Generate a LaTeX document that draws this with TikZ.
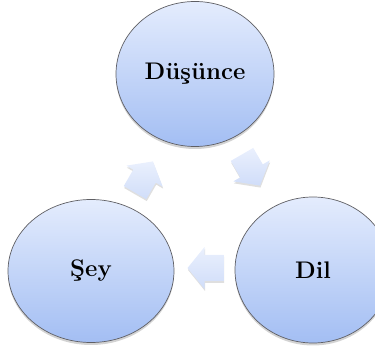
\documentclass[tikz,border=0pt]{standalone}
\usepackage{fontspec}
\usetikzlibrary{shadows,shapes.geometric}
\definecolor{ctop}{RGB}{228,236,253}
\definecolor{cbot}{RGB}{163,190,243}
\definecolor{cedge}{RGB}{95,95,100}
\definecolor{atop}{RGB}{234,240,253}
\definecolor{abot}{RGB}{208,221,249}
\tikzset{
  bubble/.style={ellipse, draw=cedge, line width=0.7pt, top color=ctop, bottom color=cbot,
    font=\fontsize{24}{26}\selectfont\bfseries, inner sep=0pt,
    drop shadow={opacity=0.35, shadow xshift=0pt, shadow yshift=-2.5pt}},
  blockarrow/.style={top color=atop, bottom color=abot, draw=none,
    drop shadow={opacity=0.25, shadow xshift=0.5pt, shadow yshift=-2pt}}
}
\newcommand{\cyclearrow}[3]{% name, center, angle
  \coordinate (#1) at (#2);
  \begin{scope}[shift={(#1)}, rotate=#3]
    \path[blockarrow] (18pt,0pt) -- (1pt,21pt) -- (1pt,13pt) -- (-18pt,13pt) -- (-18pt,-13pt) -- (1pt,-13pt) -- (1pt,-21pt) -- cycle;
  \end{scope}}
\begin{document}
\begin{tikzpicture}[x=1pt,y=-1pt]
\useasboundingbox (0,0) rectangle (375,347);
\node[bubble, minimum width=158pt, minimum height=145pt] (dus) at (195,74) {Düşünce};
\node[bubble, minimum width=166pt, minimum height=143pt] (sey) at (91,271) {Şey};
\node[bubble, minimum width=156pt, minimum height=146pt] (dil) at (313,270) {Dil};
\cyclearrow{a1}{144,177}{60}
\cyclearrow{a2}{251,170}{-60}
\cyclearrow{a3}{205.5,268}{180}
\end{tikzpicture}
\end{document}
